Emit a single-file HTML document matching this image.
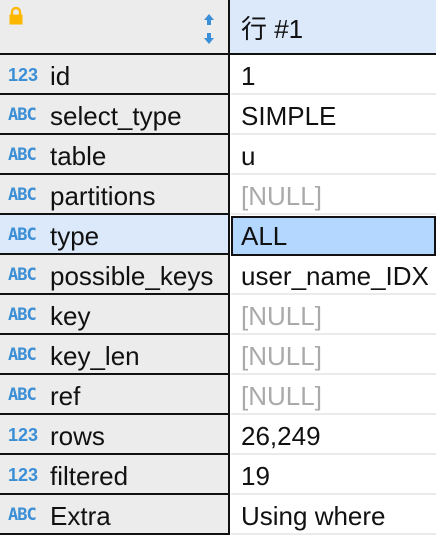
<!DOCTYPE html>
<html><head><meta charset="utf-8"><style>
body{margin:0;width:436px;height:530px;overflow:hidden;background:#fff;position:relative;font-family:"Liberation Sans","Noto Sans CJK SC",sans-serif;}
.l{position:absolute;left:0;width:228px;height:38px;background:#ececec;border-bottom:2px solid #111;}
.v{position:absolute;left:228px;width:2px;background:#111;}
.r{position:absolute;left:231px;width:205px;height:38px;background:#fff;border-bottom:2px solid #ebebeb;}
.t{position:absolute;font-size:26px;color:#111;line-height:42px;white-space:nowrap;}
.ic{position:absolute;left:8px;font-size:18px;font-weight:bold;color:#3a8fd6;line-height:40px;}
.abc{font-family:"DejaVu Sans Mono","Liberation Mono",monospace;font-size:17px;font-weight:bold;letter-spacing:-1px;}
.n{color:#aaa;}
</style></head><body>
<div style="position:absolute;left:0;top:0;width:228px;height:53px;background:#ececec;border-bottom:2px solid #111;"></div>
<div style="position:absolute;left:230px;top:0;width:206px;height:53px;background:#dce9fb;border-bottom:2px solid #111;"></div>
<div class="v" style="top:0;height:55px"></div>
<svg style="position:absolute;left:8px;top:6px" width="16" height="19"><path d="M4 9V6a4 4 0 0 1 8 0v3" fill="none" stroke="#fdb700" stroke-width="2.4"/><rect x="1.5" y="8.5" width="13" height="10" fill="#fdb700"/></svg>
<svg style="position:absolute;left:202px;top:14px" width="14" height="30"><path d="M7 0L12 6H9V11H5V6H2Z" fill="#3a8fd6"/><path d="M7 30L12 24H9V19H5V24H2Z" fill="#3a8fd6"/></svg>
<div class="t" style="left:241px;top:8px">行 #1</div>
<div class="l" style="top:55px"></div><div class="v" style="top:55px;height:40px"></div><div class="r" style="top:55px"></div><div class="ic" style="top:55px">123</div><div class="t" style="left:50px;top:55px">id</div><div class="t" style="left:241px;top:55px">1</div>
<div class="l" style="top:95px"></div><div class="v" style="top:95px;height:40px"></div><div class="r" style="top:95px"></div><div class="ic abc" style="top:95px">ABC</div><div class="t" style="left:50px;top:95px">select_type</div><div class="t" style="left:241px;top:95px">SIMPLE</div>
<div class="l" style="top:135px"></div><div class="v" style="top:135px;height:40px"></div><div class="r" style="top:135px"></div><div class="ic abc" style="top:135px">ABC</div><div class="t" style="left:50px;top:135px">table</div><div class="t" style="left:241px;top:135px">u</div>
<div class="l" style="top:175px"></div><div class="v" style="top:175px;height:40px"></div><div class="r" style="top:175px"></div><div class="ic abc" style="top:175px">ABC</div><div class="t" style="left:50px;top:175px">partitions</div><div class="t n" style="left:241px;top:175px">[NULL]</div>
<div class="l" style="top:215px;background:#dce9fb"></div><div class="v" style="top:215px;height:40px"></div><div style="position:absolute;left:231px;top:216px;width:201px;height:36px;background:#b3d7ff;border:2px solid #111;"></div><div class="ic abc" style="top:215px">ABC</div><div class="t" style="left:50px;top:215px">type</div><div class="t" style="left:241px;top:215px">ALL</div>
<div class="l" style="top:255px"></div><div class="v" style="top:255px;height:40px"></div><div class="r" style="top:256px;height:37px"></div><div class="ic abc" style="top:255px">ABC</div><div class="t" style="left:50px;top:255px">possible_keys</div><div class="t" style="left:241px;top:255px">user_name_IDX</div>
<div class="l" style="top:295px"></div><div class="v" style="top:295px;height:40px"></div><div class="r" style="top:295px"></div><div class="ic abc" style="top:295px">ABC</div><div class="t" style="left:50px;top:295px">key</div><div class="t n" style="left:241px;top:295px">[NULL]</div>
<div class="l" style="top:335px"></div><div class="v" style="top:335px;height:40px"></div><div class="r" style="top:335px"></div><div class="ic abc" style="top:335px">ABC</div><div class="t" style="left:50px;top:335px">key_len</div><div class="t n" style="left:241px;top:335px">[NULL]</div>
<div class="l" style="top:375px"></div><div class="v" style="top:375px;height:40px"></div><div class="r" style="top:375px"></div><div class="ic abc" style="top:375px">ABC</div><div class="t" style="left:50px;top:375px">ref</div><div class="t n" style="left:241px;top:375px">[NULL]</div>
<div class="l" style="top:415px"></div><div class="v" style="top:415px;height:40px"></div><div class="r" style="top:415px"></div><div class="ic" style="top:415px">123</div><div class="t" style="left:50px;top:415px">rows</div><div class="t" style="left:241px;top:415px">26,249</div>
<div class="l" style="top:455px"></div><div class="v" style="top:455px;height:40px"></div><div class="r" style="top:455px"></div><div class="ic" style="top:455px">123</div><div class="t" style="left:50px;top:455px">filtered</div><div class="t" style="left:241px;top:455px">19</div>
<div class="l" style="top:495px"></div><div class="v" style="top:495px;height:40px"></div><div class="r" style="top:495px"></div><div class="ic abc" style="top:495px">ABC</div><div class="t" style="left:50px;top:495px">Extra</div><div class="t" style="left:241px;top:495px">Using where</div>
</body></html>
